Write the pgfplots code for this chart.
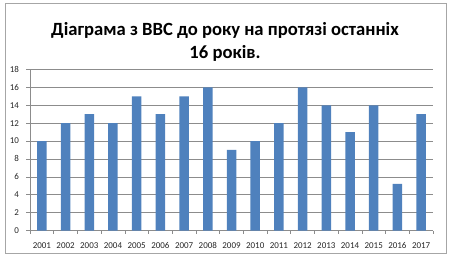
\documentclass[border=0pt]{standalone}
\usepackage{pgfplots}
\pgfplotsset{compat=1.18}
\usepackage{fontspec}
\setmainfont{Carlito}
\definecolor{barblue}{HTML}{4F81BD}
\definecolor{gridgray}{HTML}{8C8C8C}
\definecolor{ticktext}{HTML}{262626}
\definecolor{framegray}{HTML}{A6A6A6}
\begin{document}
\begin{tikzpicture}
\path (0bp,0bp) rectangle (450bp,260bp);
\draw[color=framegray, line width=0.8bp] (5bp,7bp) rectangle (446bp,257bp);
\node[font=\bfseries\fontsize{18.7}{23}\selectfont, align=center, anchor=center] at (225bp,218.5bp) {Діаграма з ВВС до року на протязі останніх\\16 років.};
\begin{axis}[
  at={(30bp,29.5bp)}, anchor=south west,
  scale only axis, width=403bp, height=161bp,
  ymin=0, ymax=18, ytick={0,2,...,18},
  xmin=-0.5, xmax=16.5,
  xtick={-0.5,0.5,...,16.5},
  xticklabels={2001,2002,2003,2004,2005,2006,2007,2008,2009,2010,2011,2012,2013,2014,2015,2016,2017},
  x tick label as interval,
  ymajorgrids, grid style={gridgray, line width=0.6bp},
  axis x line*=bottom, axis y line*=left,
  axis line style={gridgray, line width=0.6bp, -},
  tick style={gridgray, line width=0.6bp},
  tick align=outside, major tick length=3.5bp,
  ticklabel style={font=\fontsize{9}{10}\selectfont, color=ticktext},
  /pgf/number format/assume math mode=true,
  xticklabel style={yshift=-4.5bp, text height=6.2bp, text depth=0bp},
  yticklabel style={xshift=-4bp},
  ybar, bar width=9.5bp,
]
\addplot[fill=barblue, draw=none] coordinates {
(0,10) (1,12) (2,13) (3,12) (4,15) (5,13) (6,15) (7,16) (8,9) (9,10) (10,12) (11,16) (12,14) (13,11) (14,14) (15,5.2) (16,13)
};
\end{axis}
\end{tikzpicture}
\end{document}
